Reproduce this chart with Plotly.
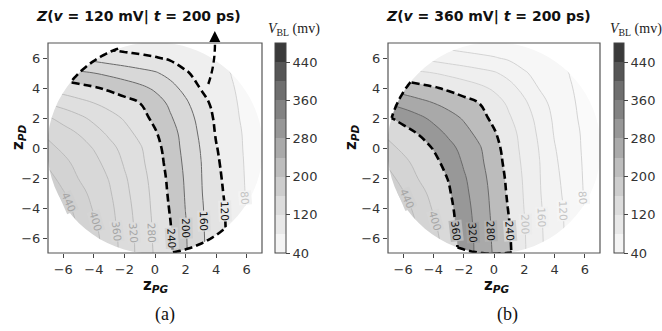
import math
import plotly.graph_objects as go

# ---------------- data ----------------
Z_PG = list(range(-7, 8))              # x grid (z_PG)
Z_PD_DESC = list(range(7, -8, -1))     # y grid (z_PD), rows listed top -> bottom
VBL_ROWS = [  # V_BL (mV) at (z_PG, z_PD), row for z_PD = 7 first
    [120, 116, 111, 107, 103, 98, 94, 90, 85, 81, 72, 64, 56, 50, 45],
    [167, 160, 154, 148, 141, 135, 129, 123, 114, 103, 92, 82, 70, 60, 51],
    [223, 215, 207, 200, 191, 182, 173, 164, 148, 124, 108, 94, 79, 66, 55],
    [271, 262, 253, 244, 233, 221, 209, 194, 173, 148, 118, 100, 83, 68, 57],
    [316, 304, 292, 280, 267, 254, 240, 217, 193, 167, 134, 108, 87, 69, 58],
    [364, 347, 329, 311, 294, 276, 254, 231, 204, 178, 147, 113, 91, 70, 59],
    [392, 375, 358, 335, 313, 293, 270, 244, 215, 185, 153, 117, 95, 73, 62],
    [410, 393, 376, 358, 332, 308, 285, 254, 221, 188, 158, 122, 97, 74, 63],
    [434, 410, 389, 371, 347, 316, 290, 260, 225, 192, 161, 126, 100, 75, 64],
    [453, 426, 399, 379, 358, 325, 296, 265, 230, 195, 162, 130, 102, 76, 65],
    [466, 443, 414, 388, 365, 331, 299, 269, 233, 197, 163, 133, 105, 77, 66],
    [470, 456, 426, 396, 371, 337, 302, 271, 237, 199, 165, 136, 108, 79, 67],
    [476, 460, 436, 405, 375, 341, 305, 273, 241, 202, 166, 137, 109, 80, 69],
    [478, 467, 443, 412, 380, 344, 307, 274, 244, 203, 167, 138, 110, 81, 71],
    [479, 474, 446, 415, 382, 345, 308, 276, 246, 204, 168, 139, 111, 82, 72],
]
LEVELS = [40, 80, 120, 160, 200, 240, 280, 320, 360, 400, 440, 480]
CBAR_TICKS = [40, 120, 200, 280, 360, 440]
AXIS_TICKS = [-6, -4, -2, 0, 2, 4, 6]
AXIS_TICKTEXT = ["\u22126", "\u22124", "\u22122", "0", "2", "4", "6"]

TITLES = ["<b><i>Z</i>(<i>v</i> = 120 mV| <i>t</i> = 200 ps)</b>",
          "<b><i>Z</i>(<i>v</i> = 360 mV| <i>t</i> = 200 ps)</b>"]
BANDS = [(120, 240), (240, 360)]          # highlighted V_BL band per panel
LABEL_LEVELS = [440, 400, 360, 320, 280, 240, 200, 160, 120, 80]
LABEL_Y = [[-3.6, -4.87, -5.53, -5.65, -5.65, -6.0, -5.31, -4.87, -4.2, -3.31],
           [-3.4, -4.87, -5.53, -5.65, -5.53, -5.53, -5.09, -4.64, -4.2, -3.3]]
DISK_R = 7.05
ARCS = [[(110.0, 141.5), (-80.4, -48.6)],      # degrees, dashed arcs of panel (a)
        [(141.5, 163.4), (-110.0, -80.4)]]     # panel (b)

# ---------------- styles ----------------
CBAR_COLORS = ["#f4f4f4", "#e8e8e8", "#dcdcdc", "#cdcdcd", "#bdbdbd", "#aaaaaa",
               "#979797", "#828282", "#6e6e6e", "#565656", "#3a3a3a"]
FILLS = [
    ["#f8f8f8", "#efefef", "#e3e3e3", "#d8d8d8", "#c7c7c7", "#e2e2e2",
     "#dfdfdf", "#dcdcdc", "#d8d8d8", "#d3d3d3", "#cecece"],
    ["#fafafa", "#f7f7f7", "#f3f3f3", "#efefef", "#eaeaea", "#bcbcbc",
     "#a9a9a9", "#989898", "#d9d9d9", "#d4d4d4", "#cfcfcf"],
]
W, H = 662, 331
PLOT_X_PX = [(48, 262), (388, 600)]
PLOT_Y_PX = (43, 253)
CBAR_X_PX = [275, 614]
CBAR_THICK = [11, 10]
TITLE_X_PX = [138, 488]
CBT_X_PX = [294, 636]
XLAB_X_PX = [155, 496]
YLAB_X_PX = [18, 351]
SUB_X_PX = [165, 507]
SUB_TEXT = ["(a)", "(b)"]

X = Z_PG
Y = Z_PD_DESC[::-1]
Z = VBL_ROWS[::-1]


def px(xp):
    return xp / W


def py(yp):
    return 1 - yp / H


def field(x, y):
    i = min(max(int(math.floor(x - X[0])), 0), len(X) - 2)
    j = min(max(int(math.floor(y - Y[0])), 0), len(Y) - 2)
    tx = (x - X[i]) / (X[i + 1] - X[i])
    ty = (y - Y[j]) / (Y[j + 1] - Y[j])
    return (Z[j][i] * (1 - tx) * (1 - ty) + Z[j][i + 1] * tx * (1 - ty)
            + Z[j + 1][i] * (1 - tx) * ty + Z[j + 1][i + 1] * tx * ty)


def crossing_x(level, y):
    step = 0.005
    x = X[0]
    f0 = field(x, y)
    while x < X[-1]:
        f1 = field(x + step, y)
        if (f0 - level) * (f1 - level) <= 0 and f0 != f1:
            return x + step * (f0 - level) / (f0 - f1)
        x += step
        f0 = f1
    return None


def mix(c1, c2):
    a = [int(c1[k:k + 2], 16) for k in (1, 3, 5)]
    b = [int(c2[k:k + 2], 16) for k in (1, 3, 5)]
    return "#" + "".join("%02x" % ((u + v) // 2) for u, v in zip(a, b))


fig = go.Figure()
shapes = []
annotations = []

for p in range(2):
    xa = "x" if p == 0 else "x2"
    ya = "y" if p == 0 else "y2"
    lo_b, hi_b = BANDS[p]
    sx = (PLOT_X_PX[p][1] - PLOT_X_PX[p][0]) / 14.0
    sy = (PLOT_Y_PX[1] - PLOT_Y_PX[0]) / 14.0

    # filled bands, stacked: each trace shades the region above its lower level
    # (plotly shades the *invalid* region of a constraint, so '<' shades z >= value)
    for lo, col in zip(LEVELS[:-1], FILLS[p]):
        fig.add_trace(go.Contour(
            x=X, y=Y, z=Z, xaxis=xa, yaxis=ya, autocontour=False,
            contours=dict(type="constraint", operation="<", value=lo),
            fillcolor=col, line=dict(width=0, smoothing=1.2), showscale=False,
            hoverinfo="skip", showlegend=False))

    def add_lines(levels, color, width, dash="solid"):
        if not levels:
            return
        size = (levels[1] - levels[0]) if len(levels) > 1 else 40
        fig.add_trace(go.Contour(
            x=X, y=Y, z=Z, xaxis=xa, yaxis=ya, autocontour=False,
            contours=dict(coloring="none", start=levels[0], end=levels[-1],
                          size=size, showlabels=False),
            line=dict(color=color, width=width, dash=dash, smoothing=1.2),
            showscale=False, hoverinfo="skip", showlegend=False))

    line_levels = LEVELS[1:-1]
    above = [L for L in line_levels if L > hi_b]
    below = [L for L in line_levels if L < lo_b]
    inner = [L for L in line_levels if lo_b < L < hi_b]
    add_lines(above, "#b8b8b8", 0.9)
    add_lines(below, "#cfcfcf", 0.9)
    add_lines(inner, "#6a6a6a", 1.0)
    add_lines([lo_b, hi_b], "#000000", 2.6, "8px,4px")

    # colour bar (dummy marker trace carrying the V_BL scale)
    scale = []
    for i, c in enumerate(CBAR_COLORS):
        scale += [[i / 11.0, c], [(i + 1) / 11.0, c]]
    fig.add_trace(go.Scatter(
        x=[None], y=[None], xaxis=xa, yaxis=ya, mode="markers", hoverinfo="skip",
        showlegend=False,
        marker=dict(color=[LEVELS[0]], cmin=LEVELS[0], cmax=LEVELS[-1],
                    colorscale=scale, showscale=True,
                    colorbar=dict(x=px(CBAR_X_PX[p]), xanchor="left", xpad=0,
                                  y=py((PLOT_Y_PX[0] + PLOT_Y_PX[1]) / 2), yanchor="middle",
                                  ypad=0, len=PLOT_Y_PX[1] - PLOT_Y_PX[0], lenmode="pixels",
                                  thickness=CBAR_THICK[p], thicknessmode="pixels",
                                  outlinewidth=1, outlinecolor="#444", borderwidth=0,
                                  tickvals=CBAR_TICKS, ticks="outside", ticklen=4,
                                  tickwidth=1, tickcolor="#444",
                                  tickfont=dict(family="DejaVu Sans", size=13, color="#333")))))

    # contour labels
    for L, yl in zip(LABEL_LEVELS, LABEL_Y[p]):
        xc = crossing_x(L, yl)
        if xc is None:
            continue
        h = 0.05
        gx = (field(xc + h, yl) - field(xc - h, yl)) / (2 * h)
        gy = (field(xc, yl + h) - field(xc, yl - h)) / (2 * h)
        tx, ty = gy, -gx
        ang = math.degrees(math.atan2(-ty * sy, tx * sx))
        while ang > 90:
            ang -= 180
        while ang <= -90:
            ang += 180
        k = LEVELS.index(L)
        bg = mix(FILLS[p][k - 1], FILLS[p][k])
        if lo_b <= L <= hi_b:
            col = "#111111"
        elif L > hi_b:
            col = "#a6a6a6"
        else:
            col = "#c4c4c4"
        annotations.append(dict(x=xc, y=yl, xref=xa, yref=ya, text=str(L), textangle=ang,
                                showarrow=False, bgcolor=bg, borderpad=0,
                                font=dict(family="DejaVu Sans", size=10.5, color=col)))

    # white mask outside the sampled disk
    R = DISK_R
    k = 0.5523 * R
    mask = ("M -7.5,-7.5 L -7.5,7.5 L 7.5,7.5 L 7.5,-7.5 Z "
            f"M {R},0 C {R},{k} {k},{R} 0,{R} C {-k},{R} {-R},{k} {-R},0 "
            f"C {-R},{-k} {-k},{-R} 0,{-R} C {k},{-R} {R},{-k} {R},0 Z")
    shapes.append(dict(type="path", path=mask, xref=xa, yref=ya, fillcolor="white",
                       line=dict(width=0), layer="above", fillrule="evenodd"))
    # dashed arcs closing the highlighted region along the disk edge
    for t0, t1 in ARCS[p]:
        n = 30
        pts = []
        for s in range(n + 1):
            t = math.radians(t0 + (t1 - t0) * s / n)
            pts.append(f"{R * math.cos(t):.4f},{R * math.sin(t):.4f}")
        shapes.append(dict(type="path", path="M " + " L ".join(pts), xref=xa, yref=ya,
                           line=dict(color="black", width=2.6, dash="8px,4px"), layer="above"))
    # frame
    shapes.append(dict(type="rect", xref=f"{xa} domain", yref=f"{ya} domain",
                       x0=0, x1=1, y0=0, y1=1, line=dict(color="#555", width=1.2),
                       fillcolor="rgba(0,0,0,0)", layer="above"))

    # texts
    annotations.append(dict(x=px(TITLE_X_PX[p]), y=py(16.5), xref="paper", yref="paper",
                            text=TITLES[p], showarrow=False, xanchor="center", yanchor="middle",
                            font=dict(family="DejaVu Sans", size=14, color="#111")))
    annotations.append(dict(x=px(CBT_X_PX[p]), y=py(29), xref="paper", yref="paper",
                            text="<i>V</i><sub>BL</sub> (mv)", showarrow=False,
                            xanchor="center", yanchor="middle",
                            font=dict(family="Liberation Serif", size=14, color="#222")))
    annotations.append(dict(x=px(XLAB_X_PX[p]), y=py(285), xref="paper", yref="paper",
                            text="<b>z</b><sub><b><i>PG</i></b></sub>", showarrow=False,
                            xanchor="center", yanchor="middle",
                            font=dict(family="DejaVu Sans", size=15, color="#111")))
    annotations.append(dict(x=px(YLAB_X_PX[p]), y=py(138), xref="paper", yref="paper",
                            text="<b>z</b><sub><b><i>PD</i></b></sub>", showarrow=False,
                            textangle=-90, xanchor="center", yanchor="middle",
                            font=dict(family="DejaVu Sans", size=15, color="#111")))
    annotations.append(dict(x=px(SUB_X_PX[p]), y=py(314), xref="paper", yref="paper",
                            text=SUB_TEXT[p], showarrow=False, xanchor="center", yanchor="middle",
                            font=dict(family="Liberation Serif", size=18, color="#111")))

# dashed arrow leaving the highlighted region of panel (a)
ARROW_PX = [(208.3, 84.0), (216.0, 62.0), (214.8, 37.0)]
a0, a1, a2 = ARROW_PX
shapes.append(dict(type="path", xref="paper", yref="paper",
                   path=f"M {px(a0[0])},{py(a0[1])} Q {px(a1[0])},{py(a1[1])} {px(a2[0])},{py(a2[1])}",
                   line=dict(color="black", width=2.4, dash="7px,4px")))
annotations.append(dict(x=px(214.8), y=py(31.0), xref="paper", yref="paper", text="",
                        showarrow=True, ax=0, ay=7, arrowhead=2, arrowsize=1.1,
                        arrowwidth=2, arrowcolor="black"))

axis_common = dict(range=[-7, 7], tickvals=AXIS_TICKS, ticktext=AXIS_TICKTEXT,
                   ticks="outside", ticklen=4, tickwidth=1, tickcolor="#444",
                   showgrid=False, zeroline=False, showline=False, fixedrange=True,
                   tickfont=dict(family="DejaVu Sans", size=13, color="#333"))
ydom = [py(PLOT_Y_PX[1]), py(PLOT_Y_PX[0])]
fig.update_layout(
    width=W, height=H, margin=dict(l=0, r=0, t=0, b=0, autoexpand=False),
    paper_bgcolor="white", plot_bgcolor="white", showlegend=False,
    xaxis=dict(domain=[px(PLOT_X_PX[0][0]), px(PLOT_X_PX[0][1])], anchor="y", **axis_common),
    yaxis=dict(domain=ydom, anchor="x", **axis_common),
    xaxis2=dict(domain=[px(PLOT_X_PX[1][0]), px(PLOT_X_PX[1][1])], anchor="y2", **axis_common),
    yaxis2=dict(domain=ydom, anchor="x2", **axis_common),
    shapes=shapes, annotations=annotations,
)

fig.write_html("out.html", config={"displayModeBar": False, "staticPlot": True},
               post_script="document.body.style.margin='0px';document.body.style.padding='0px';")
